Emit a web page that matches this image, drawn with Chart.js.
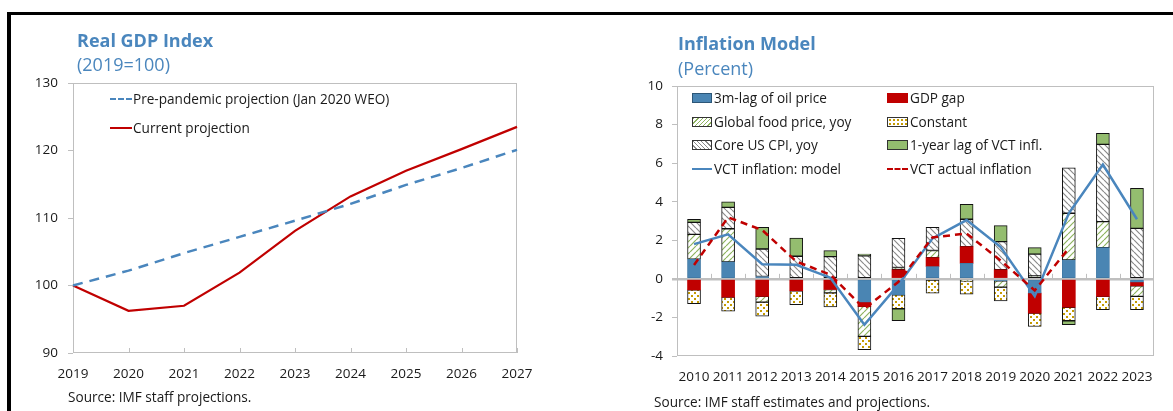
<!DOCTYPE html>
<html>
<head>
<meta charset="utf-8">
<script src="https://cdn.jsdelivr.net/npm/chart.js@4.4.1/dist/chart.umd.min.js"></script>
<style>
body { margin: 0; background: #fff; font-family: "Open Sans", sans-serif; color: #1a1a1a; }
#page { position: relative; width: 1173px; height: 411px; overflow: hidden; }
#frame { position: absolute; left: 7px; top: 12px; width: 1200px; height: 420px; border-top: 3px solid #000; border-left: 4px solid #000; }
canvas { position: absolute; top: 0; }
.t { position: absolute; white-space: nowrap; }
.title { font-weight: bold; font-size: 18px; line-height: 22px; color: #4A86BD; }
.sub { font-size: 18px; line-height: 22px; color: #4A86BD; }
.txt { font-size: 13.6px; line-height: 16px; }
.sw { position: absolute; box-sizing: border-box; }
</style>
</head>
<body>
<div id="page">
  <div id="frame"></div>
  <canvas id="gdp" width="560" height="411" style="left:0"></canvas>
  <canvas id="infl" width="573" height="411" style="left:600px"></canvas>

  <!-- left panel text -->
  <div class="t title" style="left:77px;top:29px">Real GDP Index</div>
  <div class="t sub" style="left:77px;top:53px">(2019=100)</div>
  <div class="sw" style="left:110px;top:98px;width:22px;border-top:2px dashed #4A86BD"></div>
  <div class="t txt" style="left:133px;top:91px">Pre-pandemic projection (Jan 2020 WEO)</div>
  <div class="sw" style="left:110px;top:127px;width:22px;height:2px;background:#C00000"></div>
  <div class="t txt" style="left:133px;top:120px">Current projection</div>
  <div class="t txt" style="left:68px;top:389px">Source: IMF staff projections.</div>

  <!-- right panel text -->
  <div class="t title" style="left:678px;top:32px">Inflation Model</div>
  <div class="t sub" style="left:678px;top:57px">(Percent)</div>

  <div class="sw" style="left:692px;top:93px;width:20px;height:10px;background:#4A85B3;border:1px solid #2c5677"></div>
  <div class="t txt" style="left:714px;top:90px">3m-lag of oil price</div>
  <div class="sw" style="left:887px;top:93px;width:21px;height:10px;background:#C00000"></div>
  <div class="t txt" style="left:910px;top:90px">GDP gap</div>

  <div class="sw" style="left:692px;top:117px;width:20px;height:10px;border:1px solid #333;background:repeating-linear-gradient(-45deg,#fff 0 2px,#8DB35E 2px 3px)"></div>
  <div class="t txt" style="left:714px;top:114px">Global food price, yoy</div>
  <div class="sw" style="left:887px;top:117px;width:21px;height:10px;border:1px solid #333;background:radial-gradient(#C49A00 1px,transparent 1.3px) 0 0/4px 4px,#fff"></div>
  <div class="t txt" style="left:910px;top:114px">Constant</div>

  <div class="sw" style="left:692px;top:140px;width:20px;height:10px;border:1px solid #333;background:repeating-linear-gradient(45deg,#fff 0 2px,#8a8a8a 2px 3px)"></div>
  <div class="t txt" style="left:714px;top:137px">Core US CPI, yoy</div>
  <div class="sw" style="left:887px;top:140px;width:21px;height:10px;border:1px solid #333;background:#94BD6F"></div>
  <div class="t txt" style="left:910px;top:137px">1-year lag of VCT infl.</div>

  <div class="sw" style="left:692px;top:168px;width:20px;height:2px;background:#4A86BD"></div>
  <div class="t txt" style="left:714px;top:161px">VCT inflation: model</div>
  <div class="sw" style="left:887px;top:168px;width:21px;border-top:2px dashed #C00000"></div>
  <div class="t txt" style="left:910px;top:161px">VCT actual inflation</div>

  <div class="t txt" style="left:654px;top:394px">Source: IMF staff estimates and projections.</div>
</div>

<script>
// Real GDP index
const gdpYears = ['2019', '2020', '2021', '2022', '2023', '2024', '2025', '2026', '2027'];
const prePandemic = [100, 102.2, 104.8, 107.2, 109.6, 112.1, 114.9, 117.4, 120.1];
const currentProj = [100, 96.25, 97.0, 101.9, 108.1, 113.2, 117.0, 120.2, 123.5];
const gdpTicks = [90, 100, 110, 120, 130];

// Inflation model, contributions in percent
const inflYears = ['2010', '2011', '2012', '2013', '2014', '2015', '2016', '2017', '2018', '2019', '2020', '2021', '2022', '2023'];
const oilLag = [1.02, 0.88, 0.12, 0, 0, -1.21, -0.83, 0.64, 0.81, -0.1, -0.74, 0.98, 1.62, -0.17];
const gdpGap = [-0.57, -0.95, -0.91, -0.62, -0.55, -0.22, 0.47, 0.46, 0.86, 0.47, -1.04, -1.47, -0.91, -0.19];
const foodPrice = [1.29, 1.72, -0.3, 0, -0.18, -1.55, 0.12, 0.37, -0.1, -0.33, 0.15, 2.42, 1.35, -0.55];
const constantTerm = [-0.72, -0.72, -0.72, -0.72, -0.72, -0.69, -0.72, -0.74, -0.69, -0.71, -0.69, -0.7, -0.69, -0.69];
const coreCpi = [0.62, 1.11, 1.43, 1.17, 1.15, 1.2, 1.51, 1.2, 1.42, 1.46, 1.13, 2.36, 4.0, 2.62];
const lagInfl = [0.16, 0.29, 1.12, 0.95, 0.31, 0.08, -0.62, 0, 0.77, 0.83, 0.34, -0.21, 0.57, 2.07];
const modelInfl = [1.8, 2.31, 0.76, 0.73, 0.06, -2.38, -0.3, 2.1, 3.05, 1.65, -0.9, 3.4, 5.93, 3.09];
const actualInfl = [0.72, 3.19, 2.53, 0.9, 0.22, -1.55, -0.15, 2.15, 2.35, 0.95, -0.6, 1.59, null, null];

const tickFont = { family: 'Open Sans', size: 13.5 };
const textColor = '#1a1a1a';
const axisGray = '#BFBFBF';

function makePattern(size, draw) {
    const c = document.createElement('canvas');
    c.width = size; c.height = size;
    const g = c.getContext('2d');
    g.fillStyle = '#fff';
    g.fillRect(0, 0, size, size);
    draw(g, size);
    return g.createPattern(c, 'repeat');
}

const foodPattern = makePattern(6, (g, s) => {
    g.strokeStyle = '#8DB35E'; g.lineWidth = 1.2;
    g.beginPath();
    for (const k of [-s, 0, s]) { g.moveTo(k, s); g.lineTo(k + s, 0); }
    g.stroke();
});
const cpiPattern = makePattern(6, (g, s) => {
    g.strokeStyle = '#8a8a8a'; g.lineWidth = 1.2;
    g.beginPath();
    for (const k of [-s, 0, s]) { g.moveTo(k, 0); g.lineTo(k + s, s); }
    g.stroke();
});
const constPattern = makePattern(6, (g) => {
    g.fillStyle = '#C49A00';
    g.fillRect(1, 1, 2, 2);
    g.fillRect(4, 4, 2, 2);
});

// scales should not push the plot area around: padding alone decides
const noPad = s => { s.paddingLeft = 0; s.paddingRight = 0; s.paddingTop = 0; s.paddingBottom = 0; };

// grey box round the plot, plus small inward ticks
const gdpFrame = {
    id: 'gdpFrame',
    beforeDatasetsDraw(chart) {
        const { ctx, chartArea: a, scales } = chart;
        ctx.save();
        ctx.strokeStyle = axisGray; ctx.lineWidth = 1;
        ctx.strokeRect(a.left + 0.5, a.top + 0.5, a.right - a.left - 1, a.bottom - a.top - 1);
        ctx.beginPath();
        gdpYears.forEach((y, i) => {
            const x = Math.round(scales.x.getPixelForValue(i)) + 0.5;
            ctx.moveTo(x, a.bottom); ctx.lineTo(x, a.bottom - 5);
        });
        ctx.stroke();
        ctx.restore();
    }
};

const inflFrame = {
    id: 'inflFrame',
    beforeDatasetsDraw(chart) {
        const { ctx, chartArea: a, scales } = chart;
        ctx.save();
        ctx.strokeStyle = axisGray; ctx.lineWidth = 1;
        ctx.strokeRect(a.left + 0.5, a.top + 0.5, a.right - a.left - 1, a.bottom - a.top - 1);
        const y0 = scales.y.getPixelForValue(0);
        const w = (a.right - a.left) / inflYears.length;
        ctx.beginPath();
        for (let i = 1; i < inflYears.length; i++) {
            const x = Math.round(a.left + i * w) + 0.5;
            ctx.moveTo(x, y0); ctx.lineTo(x, y0 - 5);
        }
        ctx.stroke();
        ctx.restore();
    }
};

new Chart(document.getElementById('gdp'), {
    type: 'line',
    data: {
        labels: gdpYears,
        datasets: [
            { label: 'Pre-pandemic projection (Jan 2020 WEO)', data: prePandemic, borderColor: '#4A86BD', borderWidth: 2.5, borderDash: [10, 7], pointRadius: 0, tension: 0 },
            { label: 'Current projection', data: currentProj, borderColor: '#C00000', borderWidth: 2.2, pointRadius: 0, tension: 0 }
        ]
    },
    options: {
        responsive: false,
        animation: false,
        layout: { padding: { top: 83, right: 43, bottom: 18, left: 0 } },
        plugins: { legend: { display: false }, tooltip: { enabled: false } },
        scales: {
            x: {
                offset: false,
                grid: { display: false, drawTicks: false },
                border: { display: false },
                ticks: { font: tickFont, color: textColor, padding: 13, maxRotation: 0, autoSkip: false },
                afterFit: s => { s.height = 40; noPad(s); }
            },
            y: {
                min: 90, max: 130,
                afterBuildTicks: s => { s.ticks = gdpTicks.map(v => ({ value: v })); },
                ticks: { font: tickFont, color: textColor, padding: 10 },
                grid: { drawOnChartArea: false, tickLength: 5, tickColor: axisGray },
                border: { display: false },
                afterFit: s => { s.width = 73; noPad(s); }
            }
        }
    },
    plugins: [gdpFrame]
});

const barBase = { type: 'bar', yAxisID: 'y', order: 1, barThickness: 13, borderSkipped: false };

new Chart(document.getElementById('infl'), {
    data: {
        labels: inflYears,
        datasets: [
            { type: 'line', label: 'VCT actual inflation', data: actualInfl, yAxisID: 'yLine', order: 0, borderColor: '#C00000', borderWidth: 2.5, borderDash: [7, 5], pointRadius: 0, tension: 0, spanGaps: false },
            { type: 'line', label: 'VCT inflation: model', data: modelInfl, yAxisID: 'yLine', order: 0, borderColor: '#4A86BD', borderWidth: 2.5, pointRadius: 0, tension: 0 },
            { ...barBase, label: '3m-lag of oil price', data: oilLag, backgroundColor: '#4A85B3', borderColor: '#3a6f99', borderWidth: 0.5 },
            { ...barBase, label: 'GDP gap', data: gdpGap, backgroundColor: '#C00000', borderWidth: 0 },
            { ...barBase, label: 'Global food price, yoy', data: foodPrice, backgroundColor: foodPattern, borderColor: '#111', borderWidth: 1 },
            { ...barBase, label: 'Constant', data: constantTerm, backgroundColor: constPattern, borderColor: '#111', borderWidth: 1 },
            { ...barBase, label: 'Core US CPI, yoy', data: coreCpi, backgroundColor: cpiPattern, borderColor: '#111', borderWidth: 1 },
            { ...barBase, label: '1-year lag of VCT infl.', data: lagInfl, backgroundColor: '#94BD6F', borderColor: '#111', borderWidth: 1 }
        ]
    },
    options: {
        responsive: false,
        animation: false,
        layout: { padding: { top: 86, right: 19, bottom: 15, left: 0 } },
        plugins: { legend: { display: false }, tooltip: { enabled: false } },
        scales: {
            x: {
                stacked: true,
                grid: { display: false, drawTicks: false },
                border: { display: false },
                ticks: { font: tickFont, color: textColor, padding: 13, maxRotation: 0, autoSkip: false },
                afterFit: s => { s.height = 40; noPad(s); }
            },
            y: {
                stacked: true,
                min: -4, max: 10,
                ticks: { stepSize: 2, font: tickFont, color: textColor, padding: 9 },
                grid: {
                    color: c => (c.tick && c.tick.value === 0) ? axisGray : 'rgba(0,0,0,0)',
                    lineWidth: c => (c.tick && c.tick.value === 0) ? 2.5 : 1,
                    tickColor: axisGray,
                    tickLength: 5
                },
                border: { display: false },
                afterFit: s => { s.width = 77; noPad(s); }
            },
            yLine: { display: false, stacked: false, min: -4, max: 10 }
        }
    },
    plugins: [inflFrame]
});
</script>
</body>
</html>
